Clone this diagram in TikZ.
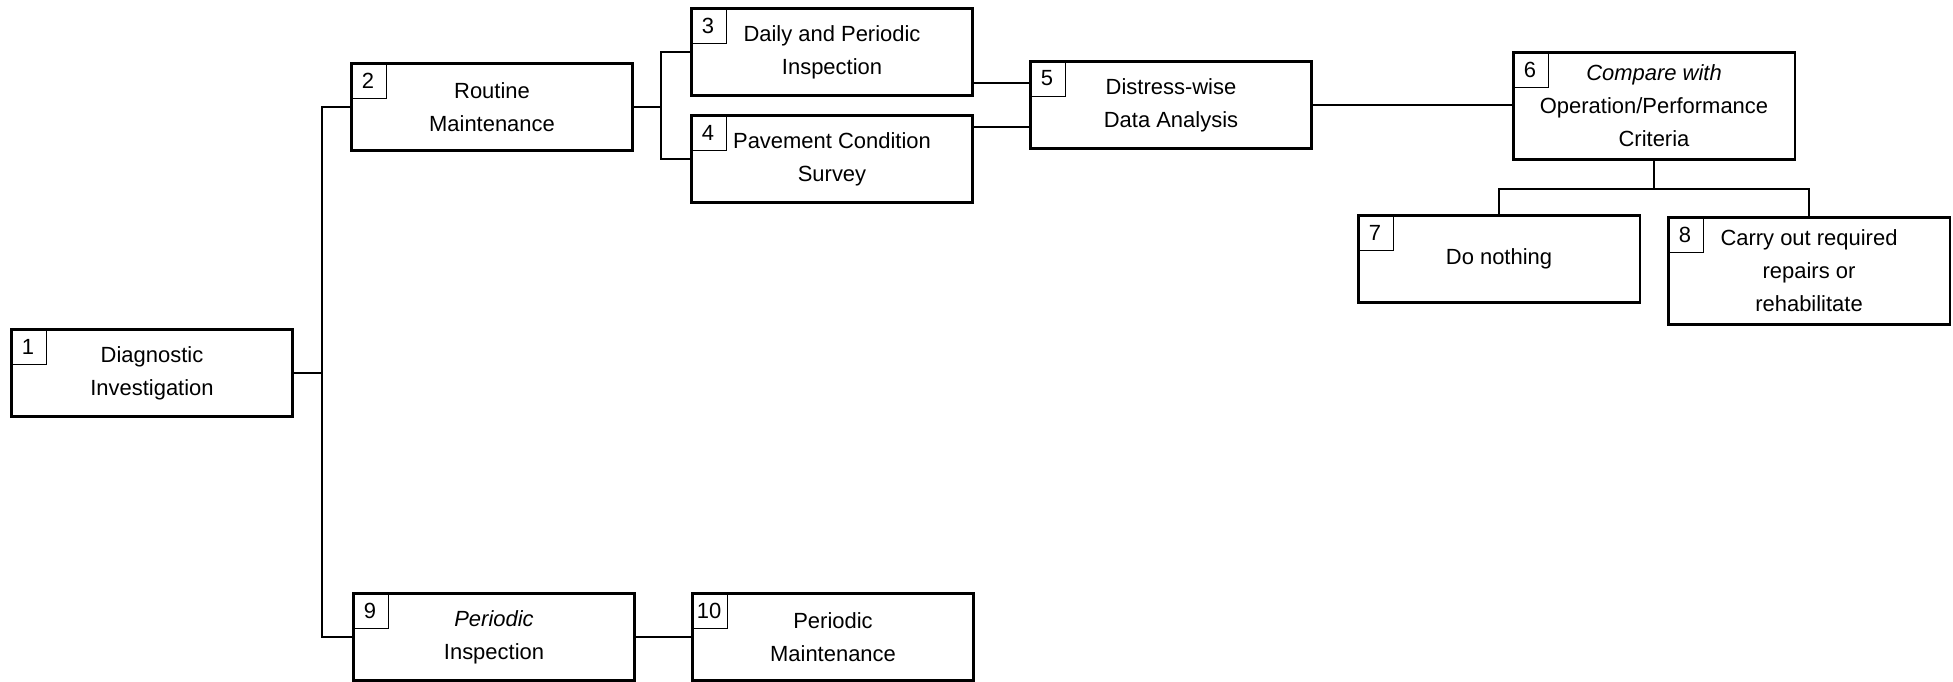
\documentclass[tikz,border=0pt]{standalone}
\usepackage{fontspec}
\setmainfont{Liberation Sans}
\tikzset{
    block/.style={draw, line width=1.7pt, minimum width=5.64cm, minimum height=1.74cm, align=center, inner sep=2pt, font=\fontsize{12.5}{18.7}\selectfont},
    numbox/.style={draw, line width=0.6pt, minimum size=0.72cm, inner sep=0pt, anchor=north west, font=\fontsize{12.5}{15}\selectfont},
    link/.style={line width=0.7pt}
}
\begin{document}
\begin{tikzpicture}[x=0.02cm, y=-0.02cm]
        \useasboundingbox (0,0) rectangle (1953,682);

        % Diagnostic Investigation
        \node[block] (diag) at (152,373) {Diagnostic\\Investigation};
        \node[numbox] (ndiag) at (diag.north west) {1};

        % Routine Maintenance
        \node[block] (routine) at (492,107) {Routine\\Maintenance};
        \node[numbox] (nroutine) at (routine.north west) {2};

        % Inspections and surveys
        \node[block] (daily) at (832,52) {Daily and Periodic\\Inspection};
        \node[numbox] (ndaily) at (daily.north west) {3};
        \node[block] (survey) at (832,159) {Pavement Condition\\Survey};
        \node[numbox] (nsurvey) at (survey.north west) {4};

        % Data Analysis
        \node[block] (analysis) at (1171,105) {Distress-wise\\Data Analysis};
        \node[numbox] (nanalysis) at (analysis.north west) {5};

        % Comparison with criteria
        \node[block, minimum height=2.14cm] (compare) at (1654,106) {\textit{Compare with}\\Operation/Performance\\Criteria};
        \node[numbox] (ncompare) at (compare.north west) {6};

        % Outcomes
        \node[block] (nothing) at (1499,259) {Do nothing};
        \node[numbox] (nnothing) at (nothing.north west) {7};
        \node[block, minimum height=2.14cm] (repair) at (1809,271) {Carry out required\\repairs or\\rehabilitate};
        \node[numbox] (nrepair) at (repair.north west) {8};

        % Periodic branch
        \node[block] (pinsp) at (494,637) {\textit{Periodic}\\Inspection};
        \node[numbox] (npinsp) at (pinsp.north west) {9};
        \node[block] (pmaint) at (833,637) {Periodic\\Maintenance};
        \node[numbox] (npmaint) at (pmaint.north west) {10};

        % Junctions
        \coordinate (jdiag) at (322,373);
        \coordinate (jroutine) at (661,107);
        \coordinate (jcompare) at (1654,189);
        \coordinate (indaily) at ([yshift=0.44cm]analysis.west);
        \coordinate (insurvey) at ([yshift=-0.44cm]analysis.west);

        % Lines
        \draw[link] (diag.east) -- (jdiag);
        \draw[link] (jdiag) |- (routine.west);
        \draw[link] (jdiag) |- (pinsp.west);
        \draw[link] (routine.east) -- (jroutine);
        \draw[link] (jroutine) |- (daily.west);
        \draw[link] (jroutine) |- (survey.west);
        \draw[link] (indaily -| daily.east) -- (indaily);
        \draw[link] (insurvey -| survey.east) -- (insurvey);
        \draw[link] (analysis.east) -- (analysis.east -| compare.west);
        \draw[link] (compare.south) -- (jcompare);
        \draw[link] (jcompare) -| (nothing.north);
        \draw[link] (jcompare) -| (repair.north);
        \draw[link] (pinsp.east) -- (pmaint.west);
    \end{tikzpicture}
\end{document}
